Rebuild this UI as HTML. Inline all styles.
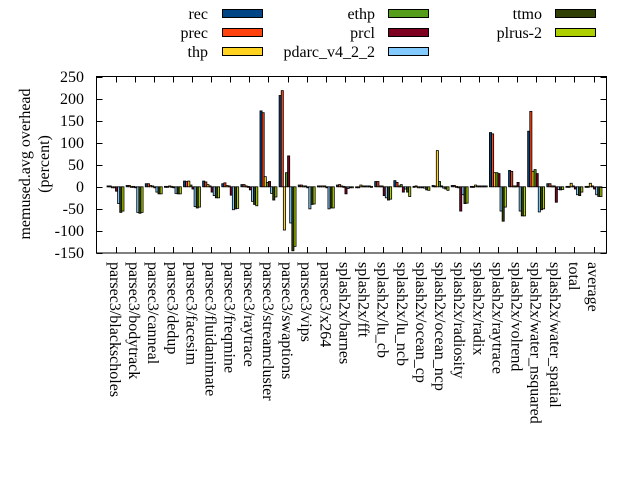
<!DOCTYPE html>
<html><head><meta charset="utf-8"><style>
html,body{margin:0;padding:0;background:#fff;}
svg{display:block;font-family:"Liberation Serif",serif;}
</style></head><body>
<svg id="s" width="640" height="480" viewBox="0 0 640 480" xmlns="http://www.w3.org/2000/svg">
<rect width="640" height="480" fill="#fff"/>
<g font-size="16" fill="#000">
<g text-anchor="end">
<text x="208" y="19">rec</text><text x="208" y="38">prec</text><text x="208" y="57">thp</text>
<text x="375" y="19">ethp</text><text x="375" y="38">prcl</text><text x="375" y="57">pdarc_v4_2_2</text>
<text x="542" y="19">ttmo</text><text x="542" y="38">plrus-2</text>
</g>
<g stroke="#000" stroke-width="1">
<rect x="222.5" y="9.5" width="40" height="8" fill="#004586"/>
<rect x="222.5" y="28.5" width="40" height="8" fill="#ff420e"/>
<rect x="222.5" y="47.5" width="40" height="8" fill="#ffd320"/>
<rect x="388.5" y="9.5" width="40" height="8" fill="#579d1c"/>
<rect x="388.5" y="28.5" width="40" height="8" fill="#7e0021"/>
<rect x="388.5" y="47.5" width="40" height="8" fill="#83caff"/>
<rect x="555.5" y="9.5" width="40" height="8" fill="#314004"/>
<rect x="555.5" y="28.5" width="40" height="8" fill="#aecf00"/>
</g>
<g text-anchor="end">
<text x="84" y="82">250</text><text x="84" y="104">200</text><text x="84" y="126">150</text>
<text x="84" y="148">100</text><text x="84" y="170">50</text><text x="84" y="192">0</text>
<text x="84" y="214">-50</text><text x="84" y="236">-100</text><text x="84" y="258">-150</text>
</g>
<text transform="translate(30,164) rotate(-90)" text-anchor="middle">memused.avg overhead</text>
<text transform="translate(49,164) rotate(-90)" text-anchor="middle">(percent)</text>
<g>
<text transform="translate(110.0,262) rotate(90)">parsec3/blackscholes</text>
<text transform="translate(129.1,262) rotate(90)">parsec3/bodytrack</text>
<text transform="translate(148.2,262) rotate(90)">parsec3/canneal</text>
<text transform="translate(167.4,262) rotate(90)">parsec3/dedup</text>
<text transform="translate(186.5,262) rotate(90)">parsec3/facesim</text>
<text transform="translate(205.6,262) rotate(90)">parsec3/fluidanimate</text>
<text transform="translate(224.7,262) rotate(90)">parsec3/freqmine</text>
<text transform="translate(243.8,262) rotate(90)">parsec3/raytrace</text>
<text transform="translate(263.0,262) rotate(90)">parsec3/streamcluster</text>
<text transform="translate(282.1,262) rotate(90)">parsec3/swaptions</text>
<text transform="translate(301.2,262) rotate(90)">parsec3/vips</text>
<text transform="translate(320.3,262) rotate(90)">parsec3/x264</text>
<text transform="translate(339.4,262) rotate(90)">splash2x/barnes</text>
<text transform="translate(358.6,262) rotate(90)">splash2x/fft</text>
<text transform="translate(377.7,262) rotate(90)">splash2x/lu_cb</text>
<text transform="translate(396.8,262) rotate(90)">splash2x/lu_ncb</text>
<text transform="translate(415.9,262) rotate(90)">splash2x/ocean_cp</text>
<text transform="translate(435.0,262) rotate(90)">splash2x/ocean_ncp</text>
<text transform="translate(454.2,262) rotate(90)">splash2x/radiosity</text>
<text transform="translate(473.3,262) rotate(90)">splash2x/radix</text>
<text transform="translate(492.4,262) rotate(90)">splash2x/raytrace</text>
<text transform="translate(511.5,262) rotate(90)">splash2x/volrend</text>
<text transform="translate(530.6,262) rotate(90)">splash2x/water_nsquared</text>
<text transform="translate(549.8,262) rotate(90)">splash2x/water_spatial</text>
<text transform="translate(568.9,262) rotate(90)">total</text>
<text transform="translate(588.0,262) rotate(90)">average</text>
</g>
</g>
<g id="bars"></g>
<g id="ax" stroke="#000" stroke-width="1" fill="none"></g>
</svg>
<script>
var V=[
[2,2,0,0,-10,-38,-58,-55],
[3,3,1,1,0,-58,-60,-58],
[7,7,3,2,0,-12,-16,-16],
[1,1,2,1,0,-15,-16,-16],
[13,12,13,4,-5,-45,-48,-46],
[13,11,5,2,-12,-20,-25,-25],
[7,9,3,2,-19,-52,-50,-49],
[5,5,2,1,-7,-33,-40,-43],
[172,168,23,10,12,-15,-30,-23],
[207,218,-98,32,70,-82,-145,-135],
[4,4,2,2,0,-50,-40,-39],
[2,2,2,2,0,-50,-48,-48],
[4,5,2,1,-16,-4,-2,-2],
[-2,-2,4,2,2,2,2,1],
[12,12,2,2,-20,-25,-30,-28],
[14,10,2,5,-12,-5,-12,-22],
[1,2,0,0,0,-3,-7,-8],
[3,2,82,12,2,-3,-5,-8],
[3,3,1,0,-55,-18,-38,-37],
[1,1,4,2,2,2,2,2],
[123,120,32,32,30,-55,-78,-46],
[37,35,2,2,10,-55,-66,-66],
[126,171,35,39,30,-57,-52,-50],
[7,7,2,2,-35,-6,-7,-6],
[1,1,8,2,-5,-18,-20,-12],
[1,1,8,2,-5,-18,-22,-22]];
var C=["#004586","#ff420e","#ffd320","#579d1c","#7e0021","#83caff","#314004","#aecf00"];
var ns="http://www.w3.org/2000/svg",b=document.getElementById("bars"),ax=document.getElementById("ax");
function Y(v){return 186.8-v*0.4412;}
function X(i){return 115.5+19.12*i;}
var w=2.12;
for(var i=0;i<26;i++)for(var k=0;k<8;k++){var v=V[i][k];var x=X(i)+(k-4)*w;var y0=Y(0),y1=Y(v);
var r=document.createElementNS(ns,"rect");r.setAttribute("x",x);r.setAttribute("width",w);
r.setAttribute("y",Math.min(y0,y1));r.setAttribute("height",Math.max(Math.abs(y1-y0),1));
r.setAttribute("fill",C[k]);r.setAttribute("stroke","#000");r.setAttribute("stroke-width","0.8");b.appendChild(r);}
function L(x1,y1,x2,y2){var l=document.createElementNS(ns,"line");l.setAttribute("x1",x1);l.setAttribute("y1",y1);l.setAttribute("x2",x2);l.setAttribute("y2",y2);ax.appendChild(l);}
var r=document.createElementNS(ns,"rect");r.setAttribute("x",96.5);r.setAttribute("y",76.5);r.setAttribute("width",510);r.setAttribute("height",176.5);ax.appendChild(r);
for(var v=-150;v<=250;v+=50){var y=Math.round(Y(v))+0.5;L(96.5,y,102.5,y);L(606.5,y,600.5,y);}
for(var i=0;i<26;i++){var x=Math.round(X(i))+0.5;L(x,253,x,247);L(x,76.5,x,82.5);}
</script>
</body></html>
